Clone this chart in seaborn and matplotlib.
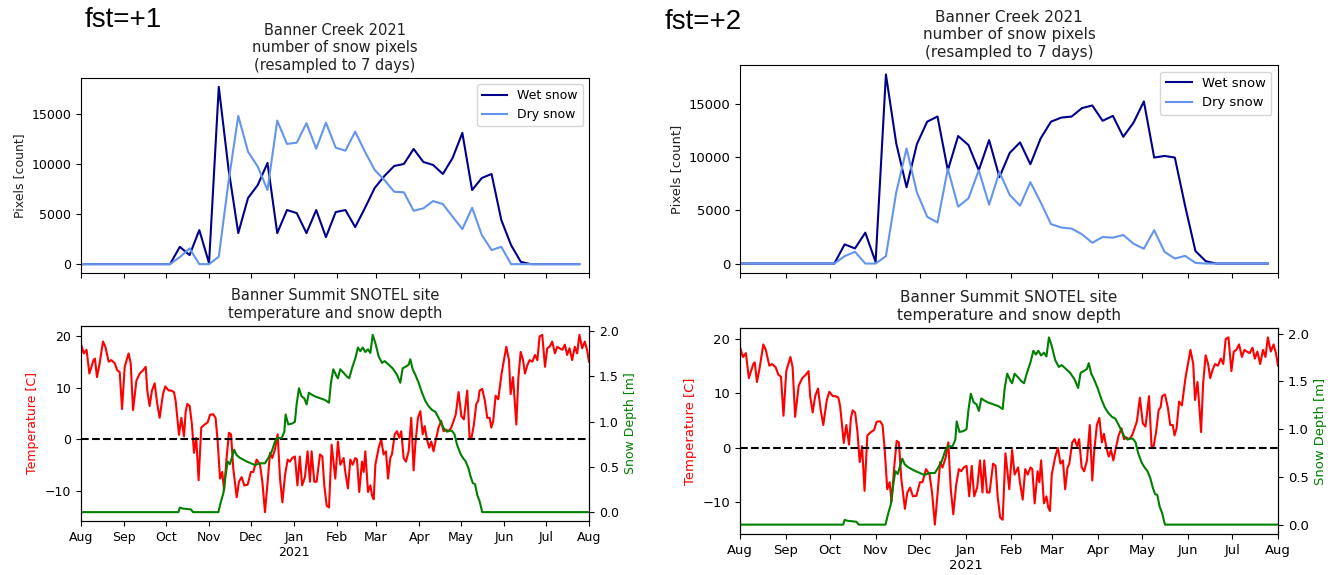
import numpy as np
import pandas as pd
import matplotlib
matplotlib.use("Agg")
import matplotlib.pyplot as plt
import seaborn as sns

# ---------------- data ----------------
week_start = "2020-08-02"
n_weeks = 52

wet_fst1 = [0, 0, 0, 0, 0, 0, 0, 0, 0, 0,
            1730, 900, 3400, 100, 17700, 9500, 3100, 6600, 7900, 10100,
            3100, 5400, 5100, 3100, 5400, 2700, 5200, 5400, 3700, 5600,
            7600, 8800, 9800, 10000, 11500, 10200, 9900, 9000, 10600, 13100,
            7400, 8600, 9000, 4400, 1900, 230, 0, 0, 0, 0, 0, 0]
dry_fst1 = [0, 0, 0, 0, 0, 0, 0, 0, 0, 0,
            700, 1570, 0, 0, 740, 8230, 14800, 11230, 9730, 7400,
            14330, 12000, 12130, 14070, 11530, 14130, 11630, 11330, 13230, 11230,
            9400, 8400, 7230, 7170, 5330, 5570, 6300, 6000, 4730, 3500,
            5630, 2900, 1400, 1730, 0, 0, 0, 0, 0, 0, 0, 0]
wet_fst2 = [0, 0, 0, 0, 0, 0, 0, 0, 0, 0,
            1800, 1420, 2900, 150, 17750, 11280, 7160, 11210, 13320, 13800,
            8750, 11970, 11120, 8750, 11590, 8110, 10390, 11370, 9320, 11750,
            13320, 13700, 13800, 14590, 14840, 13400, 13860, 11900, 13230, 15220,
            9950, 10100, 9950, 5400, 1170, 220, 0, 0, 0, 0, 0, 0]
dry_fst2 = [0, 0, 0, 0, 0, 0, 0, 0, 0, 0,
            690, 1100, 0, 0, 690, 6690, 10800, 6690, 4390, 3850,
            8900, 5340, 6120, 8750, 5530, 8590, 6440, 5430, 7640, 5740,
            3700, 3380, 3280, 2750, 1950, 2490, 2430, 2680, 1860, 1390,
            3130, 1100, 470, 720, 60, 0, 0, 0, 0, 0, 0, 0]

# SNOTEL daily series (days after 2020-08-01)
series_start = "2020-08-01"
temp_day = [0, 2, 4, 6, 9, 10, 11.5, 13.4, 15.8, 17.5, 19.9, 21.8, 24.2, 26.1, 27.8,
            29.5, 31.4, 34.2, 35.7, 37.4, 39.8, 42.2, 44.5, 46.5, 47.6, 49.3, 51, 52.9,
            54.8, 56.5, 58.9, 60.6, 63, 64.9, 66.8, 68, 69.2, 70.4, 72.1, 74, 75.2, 76.4,
            78.1, 79.7, 81.2, 82.8, 84.5, 86.4, 88.8, 91, 92.7, 95, 96.7, 98.2, 99.9,
            101.5, 102.8, 104.6, 106.3, 107.8, 109.4, 111.9, 113.5, 115.4, 117.3, 119.7,
            122.1, 123.8, 126.2, 128.6, 130.3, 132.2, 134.1, 135.8, 137.4, 139.4, 141.3,
            143, 144.7, 146.6, 148.5, 150.1, 151.8, 153.7, 155.5, 157.2, 158.9, 160.9,
            162.8, 164.5, 165.7, 167.6, 169.3, 171.7, 173.4, 174.8, 176.5, 178.2, 180.1,
            182.7, 184.6, 186.3, 188.7, 189.9, 191.8, 193.5, 195.2, 197.1, 198.3, 199.9,
            201.9, 203.1, 204.3, 206.2, 207.9, 209.1, 210.3, 211.5, 213.9, 215.7, 217.4,
            219.1, 220.6, 222.2, 223.4, 225.4, 227, 228.7, 230.1, 231.8, 233.5, 235.4,
            237.3, 239, 240.2, 242.1, 243.8, 245.5, 246.9, 248.6, 250.2, 251.7, 253.3,
            255, 256.9, 258.8, 260.5, 262.2, 264.1, 266, 267.7, 269.3, 271.3, 273.3,
            275.1, 277.5, 279.2, 280.6, 282.3, 284, 285.4, 286.4, 288.3, 290.2, 291.9,
            293.6, 294.8, 296.2, 297.9, 299.8, 302.2, 303.9, 305.6, 307.5, 308.7, 310.4,
            311.8, 312.8, 314.2, 315.9, 317.6, 319, 320.7, 322.3, 324.3, 326.2, 327.9,
            329.5, 331.4, 333.4, 335, 336.7, 338.6, 340.5, 342.2, 343.8, 345.8, 347.7,
            349.3, 351, 352.9, 354.8, 356.5, 358.1, 360.1, 362, 363.6, 365]
temp_c = [18.5, 16.7, 17.4, 12.8, 15.4, 15.7, 12.1, 14.8, 19.0, 18.0, 15.1, 15.4, 14.8, 13.4, 13.1,
          5.9, 14.1, 16.7, 14.8, 5.7, 11.4, 12.8, 13.4, 14.1, 9.5, 6.5, 9.5, 10.9,
          6.9, 4.2, 8.8, 10.3, 9.5, 9.5, 9.2, 7.5, 4.2, 0.9, 4.2, 0.6, 5.4, 6.9,
          6.5, 2.9, -2.6, 0.3, -7.9, 2.3, 2.9, 3.3, 4.8, 4.9, 4.2, -0.4, -7.6,
          -6.3, -9.9, -3.6, 1.3, 1.0, -5.6, -11.2, -8.2, -7.3, -8.9, -8.8,
          -6.3, -6.3, -3.9, -4.9, -8.2, -14.1, -8.2, -2.6, -3.6, -1.9, 1.0,
          -7.6, -12.2, -6.9, -3.9, -4.3, -3.6, -3.3, -8.9, -3.3, -8.9, -7.3,
          -2.3, -8.2, -2.3, -8.2, -8.2, -2.9, -3.3, -8.9, -12.8, -13.2, -1.0,
          -7.6, -0.4, -4.9, -3.6, -6.3, -9.5, -3.9, -4.9, -3.6, -3.9, -10.2,
          -4.3, -6.3, -2.3, -10.2, -8.9, -10.9, -11.6, -4.9, -1.6, 0.0, -2.9,
          -2.3, -7.6, -3.6, -2.9, 1.0, 1.6, 0.3, 1.6, -3.6, -4.3, -2.3,
          4.2, -6.0, -1.0, 4.2, 5.5, 1.0, 2.6, 0.0, -1.6, -0.4, -2.3,
          0.0, 2.3, 3.6, 1.6, 1.9, 1.6, 2.3, 3.6, 4.9, 9.2, 4.5,
          3.9, 9.5, 0.3, 0.3, 2.9, 6.9, 7.5, 9.5, 9.8, 7.5, 4.2,
          4.2, 2.3, 3.6, 8.5, 7.8, 12.8, 15.4, 18.0, 15.4, 8.8, 12.1,
          6.9, 2.9, 11.8, 17.0, 15.4, 12.8, 14.4, 15.4, 15.1, 16.4, 15.4,
          20.0, 20.3, 14.1, 17.7, 18.0, 19.0, 16.7, 18.0, 17.7, 17.4, 18.4,
          16.4, 17.7, 15.4, 18.0, 16.7, 20.3, 17.7, 19.0, 17.4, 15.1]

depth_day = [0, 70, 71, 73, 79, 80.5, 98.7, 100.6, 102.3, 103.9, 105.4, 107, 108.7, 110.1,
             111.8, 114.2, 116.6, 119, 122.1, 125, 128.6, 132.2, 134.6, 137, 139.4, 141.3,
             144.2, 146.1, 147, 148.9, 151.8, 153.7, 154.9, 156.6, 158.5, 160.4, 162.1,
             163.7, 165.7, 168.1, 171.7, 175.3, 178.2, 179.6, 181.3, 183.7, 184.6, 186.3,
             188.7, 191, 192.7, 194.7, 197.1, 199, 200.7, 202.4, 204.3, 206.2, 207.9,
             209.6, 211.5, 213.9, 216.3, 218.2, 221.1, 223.9, 227, 229.4, 231.1, 233.5,
             235.4, 236.6, 238.3, 240.2, 242.6, 245, 247.4, 249.8, 252.2, 254.6, 257,
             258.9, 260.5, 262.9, 264.6, 266.5, 268.4, 270.1, 272.5, 274.4, 276.4, 278.3,
             280, 281.6, 283.1, 284.7, 286.4, 288.3, 365]
depth_m = [0, 0, 0.05, 0.04, 0.03, 0, 0, 0.12, 0.21, 0.41, 0.56, 0.53, 0.62, 0.69,
           0.63, 0.60, 0.58, 0.56, 0.54, 0.52, 0.54, 0.54, 0.60, 0.67, 0.78, 0.82,
           0.82, 0.89, 1.08, 0.97, 0.98, 1.00, 1.19, 1.37, 1.28, 1.26, 1.19,
           1.32, 1.30, 1.28, 1.26, 1.24, 1.21, 1.43, 1.58, 1.50, 1.48, 1.58,
           1.54, 1.50, 1.48, 1.59, 1.70, 1.82, 1.78, 1.82, 1.77, 1.80, 1.76,
           1.96, 1.87, 1.72, 1.65, 1.67, 1.63, 1.59, 1.52, 1.43, 1.59, 1.61,
           1.63, 1.69, 1.58, 1.52, 1.43, 1.32, 1.23, 1.17, 1.13, 1.11, 1.04,
           0.98, 0.93, 0.89, 0.90, 0.90, 0.86, 0.75, 0.65, 0.60, 0.56, 0.49,
           0.39, 0.32, 0.31, 0.19, 0.12, 0.0, 0.0]

month_labels = ["Aug", "Sep", "Oct", "Nov", "Dec", "Jan\n2021", "Feb", "Mar",
                "Apr", "May", "Jun", "Jul", "Aug"]
panel_labels = ["fst=+1", "fst=+2"]

# ---------------- frames ----------------
week_dates = pd.date_range(week_start, periods=n_weeks, freq="7D")
temp_dates = pd.Timestamp(series_start) + pd.to_timedelta(temp_day, unit="D")
depth_dates = pd.Timestamp(series_start) + pd.to_timedelta(depth_day, unit="D")
month_ticks = pd.date_range("2020-08-01", "2021-08-01", freq="MS")
xlim = (pd.Timestamp("2020-08-01"), pd.Timestamp("2021-08-01"))

W, H = 1338, 575
fig = plt.figure(figsize=(W / 100, H / 100), dpi=100)
fig.patch.set_facecolor("white")


def rect(x0, y0, x1, y1):
    return [x0 / W, (H - y1) / H, (x1 - x0) / W, (y1 - y0) / H]


panels = [
    dict(top=rect(81, 78, 589, 273), bot=rect(81, 326, 589, 521), s=1.0,
         wet=wet_fst1, dry=dry_fst1, lab=(85, 20)),
    dict(top=rect(740, 65, 1278, 273), bot=rect(740, 328, 1278, 534), s=1.05,
         wet=wet_fst2, dry=dry_fst2, lab=(665, 22)),
]

for k, p in enumerate(panels):
    s = p["s"]
    fs_tick, fs_lab, fs_title = 9 * s, 9 * s, 10.5 * s
    axb = fig.add_axes(p["bot"])
    axt = fig.add_axes(p["top"], sharex=axb)

    # top: snow pixels
    sns.lineplot(x=week_dates, y=p["wet"], ax=axt, color="darkblue", lw=1.5,
                 label="Wet snow", estimator=None)
    sns.lineplot(x=week_dates, y=p["dry"], ax=axt, color="cornflowerblue", lw=1.5,
                 label="Dry snow", estimator=None)
    axt.set_title("Banner Creek 2021\nnumber of snow pixels\n(resampled to 7 days)",
                  fontsize=fs_title, color="#222222")
    axt.set_ylabel("Pixels [count]", fontsize=fs_lab, color="#222222")
    axt.set_xlabel("")
    axt.tick_params(labelbottom=False, labelsize=fs_tick)
    axt.legend(loc="upper right", fontsize=fs_tick)

    # bottom: temperature + snow depth
    sns.lineplot(x=temp_dates, y=temp_c, ax=axb, color="red", lw=1.5, estimator=None)
    axb.axhline(0, color="black", ls="--", lw=1.5)
    axb.set_ylabel("Temperature [C]", fontsize=fs_lab, color="red")
    axb.set_xlabel("")
    axb.set_title("Banner Summit SNOTEL site\ntemperature and snow depth",
                  fontsize=fs_title, color="#222222")
    axb.tick_params(labelsize=fs_tick)
    ax2 = axb.twinx()
    sns.lineplot(x=depth_dates, y=depth_m, ax=ax2, color="green", lw=1.5, estimator=None)
    ax2.set_ylabel("Snow Depth [m]", fontsize=fs_lab, color="green")
    ax2.set_yticks([0.0, 0.5, 1.0, 1.5, 2.0])
    ax2.tick_params(labelsize=fs_tick)

    axb.set_xlim(*xlim)
    axb.set_xticks(month_ticks)
    axb.set_xticklabels(month_labels)

    fig.text(p["lab"][0] / W, 1 - p["lab"][1] / H, panel_labels[k],
             fontsize=20, family="Liberation Sans", va="center", ha="left")

fig.savefig("out.png", dpi=100, facecolor="white")
